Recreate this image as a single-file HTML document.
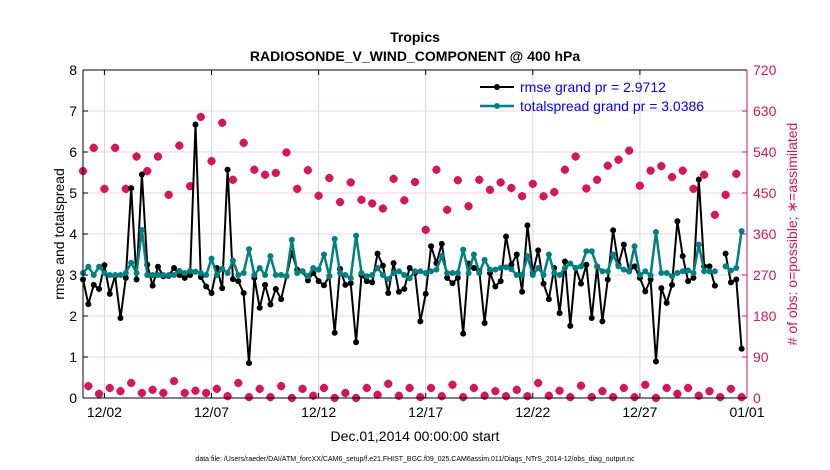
<!DOCTYPE html>
<html><head><meta charset="utf-8"><style>
body{margin:0;background:#fff;}
svg{display:block;font-family:"Liberation Sans",sans-serif;}
</style></head><body>
<svg id="chart" width="830" height="470" viewBox="0 0 830 470" xmlns="http://www.w3.org/2000/svg">
<rect width="830" height="470" fill="#fff"/>
<text x="415" y="42" text-anchor="middle" font-size="14" font-weight="bold">Tropics</text>
<text x="415" y="61" text-anchor="middle" font-size="14" font-weight="bold">RADIOSONDE_V_WIND_COMPONENT @ 400 hPa</text>
<g id="grid"></g><g id="marks"></g><g id="axes"></g>
<text transform="translate(64,234) rotate(-90)" text-anchor="middle" font-size="14">rmse and totalspread</text>
<text transform="translate(797,234) rotate(-90)" text-anchor="middle" font-size="14" fill="#d6165a"># of obs: o=possible; ∗=assimilated</text>
<text x="415" y="441" text-anchor="middle" font-size="14">Dec.01,2014 00:00:00 start</text>
<text x="415" y="461" text-anchor="middle" font-size="7">data file: /Users/raeder/DAI/ATM_forcXX/CAM6_setup/f.e21.FHIST_BGC.f09_025.CAM6assim.011/Diags_NTrS_2014-12/obs_diag_output.nc</text>
<g>
<line x1="480" y1="87" x2="514" y2="87" stroke="#000" stroke-width="2"/><circle cx="497" cy="87" r="3" fill="#000"/>
<text x="520" y="92" font-size="14" fill="#0000ff">rmse grand pr = 2.9712</text>
<line x1="480" y1="106" x2="514" y2="106" stroke="#008080" stroke-width="2.5"/><circle cx="497" cy="106" r="3" fill="#008080"/>
<text x="520" y="111" font-size="14" fill="#0000ff">totalspread grand pr = 3.0386</text>
</g>
</svg>
<script>
const rmse=[2.89,2.29,2.76,2.66,3.24,2.54,2.98,1.95,2.93,5.12,2.89,5.45,3.25,2.74,3.2,2.97,2.98,3.17,3.0,2.93,3.0,6.67,2.95,2.72,2.56,3.17,2.68,5.57,2.9,2.85,2.56,0.85,2.93,2.2,2.76,2.28,2.66,2.41,2.97,3.54,3.13,3.09,2.87,3.05,2.85,2.75,2.97,1.59,3.15,2.76,2.8,1.36,3.0,2.85,2.82,3.52,3.23,2.56,3.29,2.59,2.66,3.17,3.05,1.87,2.54,3.7,3.29,3.76,2.93,2.8,2.93,1.57,3.28,3.17,3.1,1.83,3.05,2.72,2.85,3.94,3.25,3.5,2.59,4.21,3.05,3.6,2.79,2.41,3.17,2.07,3.33,1.76,3.17,2.79,3.25,1.95,3.21,1.87,2.89,4.09,3.25,3.74,3.09,3.21,2.93,2.6,2.89,0.89,2.68,2.32,2.76,4.31,3.46,2.85,2.93,5.33,3.21,3.21,2.74,null,3.52,2.82,2.89,1.2];
const spread=[3.05,3.2,3.0,3.2,3.05,3.0,3.0,3.0,3.05,3.3,3.05,4.1,3.0,3.0,3.0,3.0,3.0,3.0,3.1,3.05,3.1,3.08,3.05,3.0,3.4,3.0,3.15,3.05,3.35,3.0,3.05,3.63,3.0,3.17,3.0,3.46,3.0,3.0,2.97,3.86,3.05,3.09,2.97,3.17,3.13,3.5,2.97,3.88,3.05,3.0,2.92,3.96,3.05,2.97,3.0,3.17,3.0,2.9,3.05,3.09,3.0,2.92,3.09,3.09,3.05,3.09,3.13,3.46,3.05,3.05,3.05,3.62,3.05,3.5,3.05,3.37,3.13,3.13,3.17,3.19,3.14,3.0,3.0,3.46,3.0,3.17,3.0,3.5,3.05,3.0,3.17,3.28,3.17,3.21,3.58,3.58,3.21,3.09,3.09,3.5,3.21,3.13,3.09,3.7,3.0,3.09,2.99,4.05,3.05,3.05,2.97,3.05,3.09,3.11,3.05,3.74,3.09,3.09,3.09,null,3.21,3.11,3.17,4.07];
const obsUpper=[498,549,459,549,459,530,498,530,446,554,465,617,520,604,479,560,501,490,494,539,459,500,444,483,430,473,435,427,416,481,434,474,369,501,413,478,421,479,457,473,461,443,470,443,452,501,530,460,479,510,523,543,466,499,509,485,499,459,490,402,446,492];
const obsLower=[26,9,22,15,33,11,18,11,37,11,16,11,20,4,33,2,20,2,26,0,20,5,22,0,11,0,22,7,31,5,22,2,22,4,29,2,22,5,15,4,18,4,33,5,16,2,27,2,15,2,22,2,29,0,22,9,22,5,15,2,20,2];
const dateLabels=["12/02","12/07","12/12","12/17","12/22","12/27","01/01"];
const dateDays=[1,6,11,16,21,26,31];
const leftTicks=[0,1,2,3,4,5,6,7,8];
const rightTicks=[0,90,180,270,360,450,540,630,720];

const NS="http://www.w3.org/2000/svg";
const L=83,R=747,T=70,B=398;
const xDay=d=>L+(d/31)*(R-L);
const xIdx=i=>xDay(i*0.25);
const yL=v=>B-(v/8)*(B-T);
const yR=v=>B-(v/720)*(B-T);
function mk(tag,attrs,parent){const e=document.createElementNS(NS,tag);for(const k in attrs)e.setAttribute(k,attrs[k]);parent.appendChild(e);return e;}
const grid=document.getElementById('grid'),marks=document.getElementById('marks'),axes=document.getElementById('axes');

rightTicks.forEach(v=>{
 const g=mk('line',{x1:L,x2:R,y1:yR(v),y2:yR(v),stroke:'#f5d0dc','stroke-width':1},grid);
 
 
 const t=mk('text',{x:R+6,y:yR(v)+5,'font-size':14,fill:'#d6165a'},axes);t.textContent=v;
 
 
 mk('line',{x1:R-5,x2:R,y1:yR(v),y2:yR(v),stroke:'#d6165a'},axes);
});
dateDays.forEach((d,k)=>{
 const g=mk('line',{x1:xDay(d),x2:xDay(d),y1:T,y2:B,stroke:'#d8d8d8','stroke-width':1},grid);
 
 
 mk('line',{x1:xDay(d),x2:xDay(d),y1:B,y2:B-5,stroke:'#000'},axes);
 mk('line',{x1:xDay(d),x2:xDay(d),y1:T,y2:T+5,stroke:'#000'},axes);
 const t=mk('text',{x:xDay(d),y:417,'font-size':14,'text-anchor':'middle'},axes);t.textContent=dateLabels[k];
 
 
});
leftTicks.forEach(v=>{
 const t=mk('text',{x:L-6,y:yL(v)+5,'font-size':14,'text-anchor':'end'},axes);t.textContent=v;
 
 
 mk('line',{x1:L,x2:L+5,y1:yL(v),y2:yL(v),stroke:'#000'},axes);
});
mk('line',{x1:L,x2:R,y1:T,y2:T,stroke:'#000'},axes);
mk('line',{x1:L,x2:R,y1:B,y2:B,stroke:'#000'},axes);
mk('line',{x1:L,x2:L,y1:T,y2:B,stroke:'#000'},axes);
mk('line',{x1:R,x2:R,y1:T,y2:B,stroke:'#d6165a'},axes);

function obsMark(x,y){
 const g=mk('g',{},marks);
 
 
 mk('path',{d:`M${x} ${y-4.5}L${x+4.5} ${y}L${x} ${y+4.5}L${x-4.5} ${y}Z`,fill:'#d6165a'},g);
 mk('circle',{cx:x,cy:y,r:3.5,fill:'none',stroke:'#d6165a','stroke-width':1.2},g);
}
obsUpper.forEach((v,k)=>obsMark(xIdx(k*2),yR(v)));
obsLower.forEach((v,k)=>obsMark(xIdx(k*2+1),yR(v)));

function series(arr,color,w,name){
 let d='',pen=false;
 arr.forEach((v,i)=>{if(v==null){pen=false;return;}d+=(pen?'L':'M')+xIdx(i).toFixed(1)+' '+yL(v).toFixed(1);pen=true;});
 const p=mk('path',{d:d,fill:'none',stroke:color,'stroke-width':w,'stroke-linejoin':'round'},marks);
 
 
 arr.forEach((v,i)=>{if(v==null)return;
  const c=mk('circle',{cx:xIdx(i),cy:yL(v),r:3,fill:color},marks);
  
  
 });
}
series(rmse,'#000',2,'rmse');
series(spread,'#008080',2.5,'totalspread');
</script>
</body></html>
